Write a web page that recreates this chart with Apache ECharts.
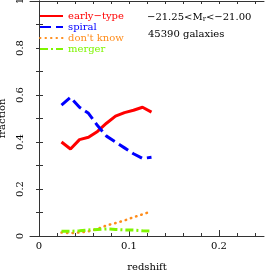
<!DOCTYPE html>
<html><head><meta charset="utf-8">
<script src="https://cdn.jsdelivr.net/npm/echarts@6/dist/echarts.min.js"></script>
<style>html,body{margin:0;padding:0;background:#fff}#c{width:266px;height:271px}</style>
</head><body><div id="c"></div>
<script>
const redshift = [0.025,0.035,0.045,0.055,0.065,0.075,0.085,0.095,0.105,0.115,0.125];
const earlyType = [0.40,0.37,0.41,0.42,0.445,0.48,0.51,0.525,0.535,0.548,0.527];
const spiral    = [0.557,0.59,0.548,0.522,0.47,0.425,0.40,0.375,0.35,0.33,0.335];
const dontKnow  = [0.015,0.012,0.015,0.02,0.03,0.045,0.055,0.066,0.08,0.092,0.105];
const merger    = [0.02,0.02,0.022,0.026,0.028,0.03,0.028,0.026,0.025,0.022,0.021];
const seriesNames = ['early\u2212type','spiral',"don't know",'merger'];
const seriesColors = ['#ff0000','#0000ff','#ff8c1a','#7ff500'];
const xLabelTicks = [0,0.1,0.2];
const xMinorTicks = [0,0.02,0.04,0.06,0.08,0.1,0.12,0.14,0.16,0.18,0.2,0.22,0.24];
const yLabelTicks = [0,0.2,0.4,0.6,0.8,1];
const yMinorTicks = [0,0.1,0.2,0.3,0.4,0.5,0.6,0.7,0.8,0.9,1];
const magLabel = '\u221221.25<M{sub|r}<\u221221.00';
const countLabel = '45390 galaxies';

const F = 'DejaVu Serif';
const X_MIN = -0.01, X_MAX = 0.25;
const line = {show:true, lineStyle:{color:'#333', width:1}};
function xAx(pos, ticks, len, labels, showLine){
  return {type:'value', position:pos, min:X_MIN, max:X_MAX, splitLine:{show:false},
    axisLine: showLine ? line : {show:false},
    axisTick:{show:true, inside:true, length:len, customValues:ticks, lineStyle:{color:'#333'}},
    axisLabel: labels ? {show:true, customValues:labels, margin:5, fontFamily:F, fontSize:10, color:'#000',
      formatter: v => String(Math.round(v*10)/10)} : {show:false}};
}
function yAx(pos, ticks, len, labels){
  return {type:'value', position:pos, min:0, max:1, splitLine:{show:false}, axisLine:line,
    axisTick:{show:true, inside:true, length:len, customValues:ticks, lineStyle:{color:'#333'}},
    axisLabel: labels ? {show:true, customValues:labels, rotate:90, margin:5, fontFamily:F, fontSize:10, color:'#000',
      formatter: v => String(Math.round(v*10)/10)} : {show:false}};
}
const xb = xAx('bottom', xLabelTicks, 6, xLabelTicks, true);
xb.name = 'redshift'; xb.nameLocation = 'middle'; xb.nameGap = 26;
xb.nameTextStyle = {fontFamily:F, fontSize:10, color:'#000'};
const yl = yAx('left', yMinorTicks, 4, yLabelTicks);
yl.name = 'fraction'; yl.nameLocation = 'middle'; yl.nameGap = 17; yl.nameRotate = 90;
yl.nameTextStyle = {fontFamily:F, fontSize:10, color:'#000'};

const dataSets = [earlyType, spiral, dontKnow, merger];
const styles = [
  {width:3, type:'solid'},
  {width:3, type:[11,5]},
  {width:2.5, type:[0.5,5], cap:'round'},
  {width:3, type:[8,3,2,3]}
];
const chart = echarts.init(document.getElementById('c'), null, {renderer:'canvas'});
chart.setOption({
  animation:false,
  grid:{left:30, right:2, top:1, bottom:35, outerBoundsMode:'none', containLabel:false},
  xAxis:[xb, xAx('bottom', xMinorTicks, 3, null, false), xAx('top', xMinorTicks, 3, null, true)],
  yAxis:[yl, yAx('right', yMinorTicks, 3, null)],
  legend:{orient:'vertical', left:39, top:11, padding:0, itemWidth:23, itemHeight:10, itemGap:1,
    itemStyle:{opacity:0},
    textStyle:{fontFamily:F, fontSize:10, lineHeight:10},
    data: seriesNames.map((n,i)=>({name:n, textStyle:{color:seriesColors[i]}}))},
  title:[
    {text:magLabel, left:147, top:11, padding:0,
      textStyle:{fontFamily:F, fontSize:10, fontWeight:'normal', color:'#000',
        rich:{sub:{fontFamily:F, fontSize:7, color:'#000', verticalAlign:'bottom', padding:[5,0,0,0]}}}},
    {text:countLabel, left:148, top:29, padding:0,
      textStyle:{fontFamily:F, fontSize:10, fontWeight:'normal', color:'#000'}}
  ],
  series: seriesNames.map((n,i)=>({
    name:n, type:'line', xAxisIndex:0, yAxisIndex:0, showSymbol:false, symbol:'none',
    color:seriesColors[i],
    lineStyle:Object.assign({color:seriesColors[i]}, styles[i]),
    data: redshift.map((x,j)=>[x, dataSets[i][j]])
  }))
});
</script></body></html>
